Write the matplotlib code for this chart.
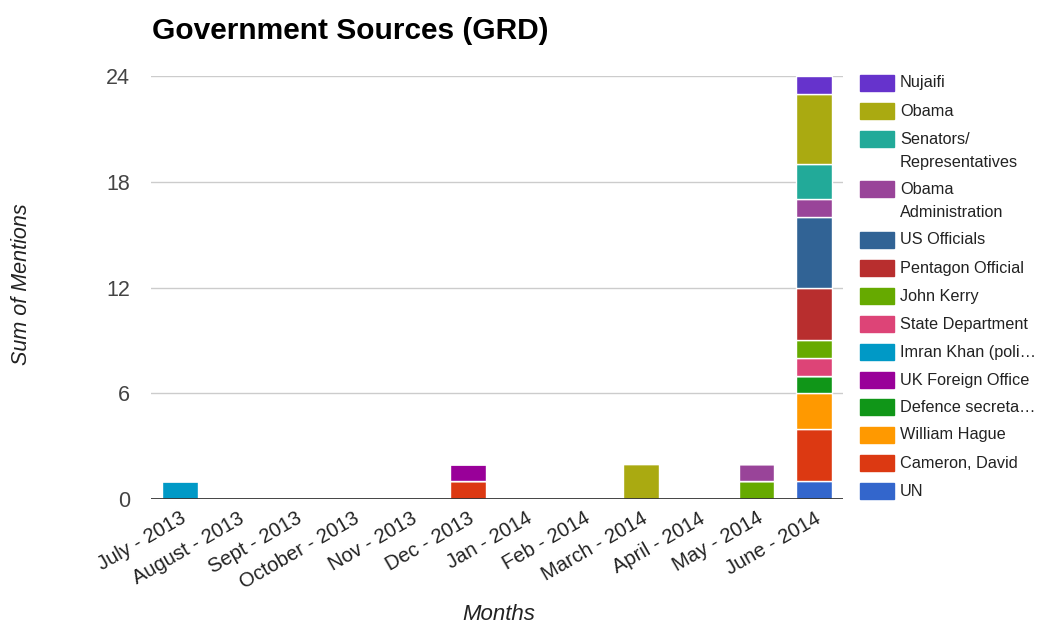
import matplotlib
matplotlib.use("Agg")
import matplotlib.pyplot as plt
from matplotlib.patches import Rectangle
import numpy as np

plt.rcParams['font.family'] = ['Liberation Sans', 'DejaVu Sans']

months = ["July - 2013", "August - 2013", "Sept - 2013", "October - 2013",
          "Nov - 2013", "Dec - 2013", "Jan - 2014", "Feb - 2014",
          "March - 2014", "April - 2014", "May - 2014", "June - 2014"]

# Series listed bottom-to-top of the stack
un           = [0, 0, 0, 0, 0, 0, 0, 0, 0, 0, 0, 1]
cameron      = [0, 0, 0, 0, 0, 1, 0, 0, 0, 0, 0, 3]
hague        = [0, 0, 0, 0, 0, 0, 0, 0, 0, 0, 0, 2]
defence      = [0, 0, 0, 0, 0, 0, 0, 0, 0, 0, 0, 1]
uk_fo        = [0, 0, 0, 0, 0, 1, 0, 0, 0, 0, 0, 0]
imran_khan   = [1, 0, 0, 0, 0, 0, 0, 0, 0, 0, 0, 0]
state_dept   = [0, 0, 0, 0, 0, 0, 0, 0, 0, 0, 0, 1]
kerry        = [0, 0, 0, 0, 0, 0, 0, 0, 0, 0, 1, 1]
pentagon     = [0, 0, 0, 0, 0, 0, 0, 0, 0, 0, 0, 3]
us_officials = [0, 0, 0, 0, 0, 0, 0, 0, 0, 0, 0, 4]
obama_admin  = [0, 0, 0, 0, 0, 0, 0, 0, 0, 0, 1, 1]
senators     = [0, 0, 0, 0, 0, 0, 0, 0, 0, 0, 0, 2]
obama        = [0, 0, 0, 0, 0, 0, 0, 0, 2, 0, 0, 4]
nujaifi      = [0, 0, 0, 0, 0, 0, 0, 0, 0, 0, 0, 1]

series = [un, cameron, hague, defence, uk_fo, imran_khan, state_dept, kerry,
          pentagon, us_officials, obama_admin, senators, obama, nujaifi]
labels = ["UN", "Cameron, David", "William Hague", "Defence secreta\u2026",
          "UK Foreign Office", "Imran Khan (poli\u2026", "State Department",
          "John Kerry", "Pentagon Official", "US Officials",
          "Obama\nAdministration", "Senators/\nRepresentatives", "Obama",
          "Nujaifi"]
colors = ["#3366cc", "#dc3912", "#ff9900", "#109618", "#990099", "#0099c6",
          "#dd4477", "#66aa00", "#b82e2e", "#316395", "#994499", "#22aa99",
          "#aaaa11", "#6633cc"]

yticks = [0, 6, 12, 18, 24]

W, H = 1040, 628
fig = plt.figure(figsize=(W / 100, H / 100), dpi=100)
ax = fig.add_axes([151 / W, 1 - 499 / H, 692 / W, (499 - 76) / H])

x = np.arange(len(months))
bottom = np.zeros(len(months))
for vals, col in zip(series, colors):
    v = np.array(vals, dtype=float)
    ax.bar(x, v, bottom=bottom, width=0.62, color=col, edgecolor="white",
           linewidth=1.0, zorder=3)
    bottom += v

ax.set_xlim(-0.5, len(months) - 0.5)
ax.set_ylim(0, 24)
ax.set_yticks(yticks)
ax.set_yticklabels([str(t) for t in yticks], fontsize=15.5, color="#444444")
ax.set_xticks(x)
ax.set_xticklabels(months, rotation=30, ha="right", rotation_mode="anchor",
                   fontsize=14.5, color="#222222")
ax.tick_params(axis="both", length=0)
ax.tick_params(axis="y", pad=15)
ax.tick_params(axis="x", pad=7)

for t in yticks[1:]:
    ax.axhline(t, color="#cccccc", linewidth=1, zorder=1)
ax.axhline(0, color="#333333", linewidth=2, zorder=4)
for s in ax.spines.values():
    s.set_visible(False)

fig.text(22 / W, 1 - 284 / H, "Sum of Mentions", fontsize=15.5, style="italic",
         color="#222222", rotation=90, va="center", ha="center")
fig.text(499 / W, 1 - 615 / H, "Months", fontsize=16, style="italic",
         color="#222222", va="center", ha="center")

fig.text(152 / W, 1 - 31 / H, "Government Sources (GRD)", fontsize=21.5,
         fontweight="bold", color="#000000", va="center", ha="left")

# Legend drawn top-to-bottom in reverse stack order
legend_y = [83, 111, 139, 189, 240, 268, 296, 324, 352, 380, 407, 435, 463, 491]
for yy, lab, col in zip(legend_y, labels[::-1], colors[::-1]):
    fig.patches.append(Rectangle((860 / W, 1 - (yy + 8) / H), 34 / W, 16 / H,
                                 transform=fig.transFigure, color=col))
    lines = lab.split("\n")
    for k, line in enumerate(lines):
        fig.text(900 / W, 1 - (yy + 23.5 * k) / H, line, fontsize=11.7,
                 color="#222222", va="center", ha="left")

fig.savefig("out.png", dpi=100)
